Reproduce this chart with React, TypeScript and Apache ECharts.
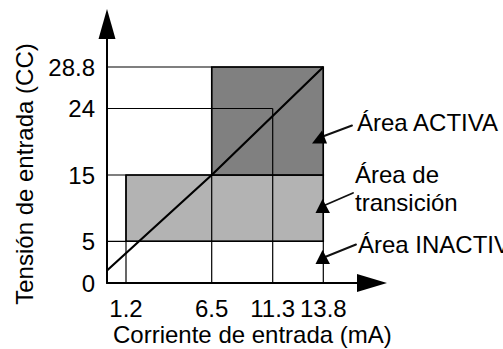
import React, { useEffect, useRef } from "react";
import * as echarts from "echarts";

// ---------- data ----------
const xTickValues = [1.2, 6.5, 11.3, 13.8];
const xTickLabels = ["1.2", "6.5", "11.3", "13.8"];
const yTickValues = [0, 5, 15, 24, 28.8];
const yTickLabels = ["0", "5", "15", "24", "28.8"];

// transition area (light) and active area (dark)
const transitionX = [1.2, 13.8];
const transitionY = [5, 15];
const activeX = [6.5, 13.8];
const activeY = [15, 28.8];

// input current vs. input voltage response line
const responseX = [0, 6.5, 13.8];
const responseY = [1.5, 15, 28.8];

// guide lines: horizontal (at y, from the axis to endX), vertical (at x, from the axis to endY)
const hGuideY = [28.8, 24, 15, 5];
const hGuideEndX = [13.8, 11.3, 13.8, 13.8];
const vGuideX = [1.2, 6.5, 11.3, 13.8];
const vGuideEndY = [15, 28.8, 24, 28.8];

const xTitle = "Corriente de entrada (mA)";
const yTitle = "Tensión de entrada (CC)";
const labelActive = "Área ACTIVA";
const labelTransition1 = "Área de";
const labelTransition2 = "transición";
const labelInactive = "Área INACTIVA";

// ---------- schematic (non-linear) axis layout ----------
const LAYOUT = {
  left: 107,
  top: 24,
  xBreaks: [0, 1.2, 6.5, 11.3, 13.8],
  xOffsets: [0, 19, 104.7, 165.7, 216.3],
  yBreaks: [0, 5, 15, 24, 28.8],
  yOffsets: [0, 41.7, 108, 174.5, 216],
  xMax: 265,
  yMax: 259,
};
// callout pointer lines and arrow heads (page pixels)
const CALLOUTS = [
  { line: [[352, 125.5], [320, 137.5]], head: [[312, 143.5], [327, 143.5], [322, 130.5]] },
  { line: [[353, 193], [323, 206]], head: [[315.5, 213], [330, 213], [322.5, 199]] },
  { line: [[356, 244.5], [325, 257]], head: [[315.5, 264], [330, 264], [322.5, 250]] },
];

function piecewise(v: number, breaks: number[], offs: number[]) {
  for (let i = 0; i < breaks.length - 1; i++) {
    if (v <= breaks[i + 1] || i === breaks.length - 2) {
      const t = (v - breaks[i]) / (breaks[i + 1] - breaks[i]);
      return offs[i] + t * (offs[i + 1] - offs[i]);
    }
  }
  return offs[offs.length - 1];
}
const mapX = (v: number) => piecewise(v, LAYOUT.xBreaks, LAYOUT.xOffsets);
const mapY = (v: number) => piecewise(v, LAYOUT.yBreaks, LAYOUT.yOffsets);

const FONT = '"Liberation Sans", Arial, Helvetica, sans-serif';
const DARK = "#808080";
const LIGHT = "#b3b3b3";

export default function App() {
  const ref = useRef<HTMLDivElement>(null);
  useEffect(() => {
    if (!ref.current) return;
    const chart = echarts.init(ref.current, undefined, { renderer: "svg" });

    const rects = [
      [mapX(transitionX[0]), mapY(transitionY[0]), mapX(transitionX[1]), mapY(transitionY[1])],
      [mapX(activeX[0]), mapY(activeY[0]), mapX(activeX[1]), mapY(activeY[1])],
    ];
    const rectColors = [LIGHT, DARK];
    const guides = [
      ...hGuideY.map((y, i) => [0, y, hGuideEndX[i], y]),
      ...vGuideX.map((x, i) => [x, 0, x, vGuideEndY[i]]),
    ].map(([a, b, c, d]) => [mapX(a), mapY(b), mapX(c), mapY(d)]);

    const xLabelOf = (v: number) => {
      const i = xTickValues.findIndex((t) => Math.abs(mapX(t) - v) < 1e-6);
      return i >= 0 ? xTickLabels[i] : "";
    };
    const yLabelOf = (v: number) => {
      const i = yTickValues.findIndex((t) => Math.abs(mapY(t) - v) < 1e-6);
      return i >= 0 ? yTickLabels[i] : "";
    };

    const textStyle = { fontFamily: FONT, fontSize: 24, fill: "#000" };

    chart.setOption({
      animation: false,
      backgroundColor: "#fff",
      grid: { left: LAYOUT.left, top: LAYOUT.top, width: LAYOUT.xMax, height: LAYOUT.yMax, containLabel: false },
      xAxis: {
        type: "value",
        min: 0,
        max: LAYOUT.xMax,
        splitLine: { show: false },
        axisTick: { show: false },
        axisLine: {
          show: true,
          onZero: false,
          lineStyle: { color: "#000", width: 2 },
          symbol: ["none", "path://M9 0L18 30L0 30Z"],
          symbolSize: [18, 30],
        },
        axisLabel: {
          customValues: xTickValues.map(mapX),
          formatter: xLabelOf,
          margin: 13,
          color: "#000",
          fontFamily: FONT,
          fontSize: 24,
          hideOverlap: false,
        },
        z: 10,
      },
      yAxis: {
        type: "value",
        min: 0,
        max: LAYOUT.yMax,
        splitLine: { show: false },
        axisTick: { show: false },
        axisLine: {
          show: true,
          onZero: false,
          lineStyle: { color: "#000", width: 2 },
          symbol: ["none", "path://M8.5 0L17 30L0 30Z"],
          symbolSize: [17, 30],
        },
        axisLabel: {
          customValues: yTickValues.map(mapY),
          formatter: yLabelOf,
          margin: 12,
          color: "#000",
          fontFamily: FONT,
          fontSize: 24,
          hideOverlap: false,
        },
        z: 10,
      },
      series: [
        {
          type: "custom",
          z: 1,
          data: rects,
          renderItem: (params: any, api: any) => {
            const p0 = api.coord([api.value(0), api.value(1)]);
            const p1 = api.coord([api.value(2), api.value(3)]);
            return {
              type: "rect",
              shape: { x: p0[0], y: p1[1], width: p1[0] - p0[0], height: p0[1] - p1[1] },
              style: { fill: rectColors[params.dataIndex], stroke: "#000", lineWidth: 1.5 },
            };
          },
        },
        {
          type: "custom",
          z: 2,
          data: guides,
          renderItem: (params: any, api: any) => {
            const p0 = api.coord([api.value(0), api.value(1)]);
            const p1 = api.coord([api.value(2), api.value(3)]);
            return {
              type: "line",
              shape: { x1: p0[0], y1: p0[1], x2: p1[0], y2: p1[1] },
              style: { stroke: "#000", lineWidth: 1.2 },
            };
          },
        },
        {
          type: "line",
          z: 3,
          symbol: "none",
          data: responseX.map((x, i) => [mapX(x), mapY(responseY[i])]),
          lineStyle: { color: "#000", width: 2.2 },
        },
      ],
      graphic: [
        { type: "text", x: 113, y: 334, style: { ...textStyle, text: xTitle, align: "left", verticalAlign: "middle" } },
        {
          type: "text",
          x: 24,
          y: 174,
          rotation: Math.PI / 2,
          style: { ...textStyle, text: yTitle, align: "center", verticalAlign: "middle" },
        },
        { type: "text", x: 357, y: 122, style: { ...textStyle, text: labelActive, verticalAlign: "middle" } },
        { type: "text", x: 355, y: 174, style: { ...textStyle, text: labelTransition1, verticalAlign: "middle" } },
        { type: "text", x: 355, y: 202.5, style: { ...textStyle, text: labelTransition2, verticalAlign: "middle" } },
        { type: "text", x: 358, y: 244, style: { ...textStyle, text: labelInactive, verticalAlign: "middle" } },
        ...CALLOUTS.map((c) => ({
          type: "line",
          z: 100,
          shape: { x1: c.line[0][0], y1: c.line[0][1], x2: c.line[1][0], y2: c.line[1][1] },
          style: { stroke: "#111", lineWidth: 1.9, lineCap: "round" },
        })),
        ...CALLOUTS.map((c) => ({
          type: "polygon",
          z: 100,
          shape: { points: c.head },
          style: { fill: "#000" },
        })),
      ],
    });
    return () => chart.dispose();
  }, []);
  return (
    <div
      ref={ref}
      style={{ position: "fixed", left: 0, top: 0, width: 503, height: 349, background: "#fff" }}
    />
  );
}
